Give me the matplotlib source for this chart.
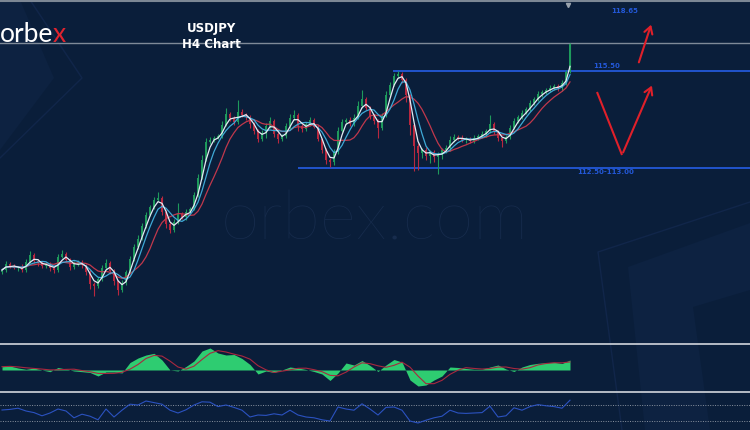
import matplotlib.pyplot as plt
from matplotlib.patches import Polygon
from matplotlib.lines import Line2D
import numpy as np
import pandas as pd

# USDJPY H4 closes from left to right
closes = [109.53, 109.71, 109.65, 109.59, 109.62, 109.53, 109.77, 109.98, 109.80, 109.74,
          109.65, 109.71, 109.59, 109.53, 109.92, 110.01, 109.83, 109.62, 109.71, 109.77,
          109.68, 109.47, 109.11, 109.05, 109.26, 109.59, 109.74, 109.50, 109.20, 108.93,
          109.14, 109.47, 109.86, 110.22, 110.46, 110.85, 111.18, 111.42, 111.63, 111.69,
          111.27, 110.91, 110.73, 110.97, 111.21, 111.12, 111.27, 111.36, 111.78, 112.29,
          112.83, 113.37, 113.43, 113.49, 113.55, 113.88, 114.21, 114.09, 113.97, 114.27,
          114.18, 114.12, 113.91, 113.70, 113.46, 113.64, 113.85, 114.00, 113.61, 113.46,
          113.55, 113.85, 114.09, 114.18, 113.85, 113.76, 113.91, 114.03, 113.82, 113.46,
          113.13, 112.83, 112.77, 113.07, 113.70, 113.97, 114.03, 113.91, 114.09, 114.45,
          114.66, 114.39, 114.15, 114.00, 113.79, 114.15, 114.78, 115.08, 115.35, 115.41,
          115.23, 114.78, 113.88, 113.25, 113.04, 113.13, 112.95, 113.07, 112.92, 112.98,
          113.13, 113.19, 113.43, 113.52, 113.49, 113.43, 113.46, 113.40, 113.49, 113.55,
          113.61, 113.70, 113.91, 113.67, 113.49, 113.40, 113.52, 113.79, 114.00, 114.12,
          114.24, 114.36, 114.54, 114.66, 114.81, 114.87, 114.93, 114.99, 115.05, 114.99,
          115.14, 115.47, 116.31]
first_open = 109.47

# wick lengths above / below the body
wick_up = [.06, .08, .05, .07, .04, .09, .08, .12, .05, .06,
           .05, .07, .06, .04, .10, .12, .05, .06, .08, .05,
           .06, .04, .07, .05, .06, .09, .12, .05, .06, .04,
           .08, .07, .10, .09, .12, .08, .10, .07, .09, .18,
           .06, .05, .07, .10, .33, .06, .08, .05, .10, .12,
           .14, .12, .08, .06, .07, .12, .18, .06, .05, .36,
           .08, .06, .05, .07, .05, .08, .10, .12, .06, .07,
           .05, .10, .12, .15, .06, .05, .07, .09, .06, .05,
           .04, .06, .05, .10, .12, .08, .06, .09, .12, .15,
           .27, .06, .05, .07, .05, .10, .12, .09, .08, .09,
           .06, .05, .04, .06, .08, .07, .10, .05, .06, .08,
           .07, .09, .12, .08, .06, .10, .07, .05, .08, .06,
           .09, .07, .27, .06, .05, .04, .06, .10, .08, .07,
           .09, .06, .08, .07, .10, .06, .05, .08, .07, .06,
           .08, .05, .03]
wick_dn = [.05, .07, .06, .04, .08, .05, .07, .04, .06, .08,
           .06, .05, .08, .10, .05, .04, .06, .09, .07, .05,
           .08, .10, .14, .30, .07, .06, .05, .08, .12, .15,
           .06, .05, .04, .06, .05, .04, .05, .03, .06, .04,
           .10, .12, .09, .06, .05, .07, .08, .06, .04, .05,
           .04, .03, .05, .06, .04, .05, .04, .08, .10, .06,
           .07, .09, .12, .10, .08, .06, .15, .05, .10, .12,
           .06, .05, .08, .05, .15, .09, .06, .05, .04, .07,
           .10, .12, .15, .08, .05, .04, .06, .07, .05, .04,
           .05, .06, .08, .10, .30, .05, .04, .05, .04, .06,
           .10, .20, .30, .75, .50, .15, .12, .20, .15, .50,
           .12, .08, .10, .06, .05, .07, .09, .06, .05, .07,
           .06, .08, .05, .06, .09, .18, .07, .05, .04, .06,
           .05, .04, .06, .05, .07, .08, .05, .06, .07, .10,
           .08, .05, .04]

# MACD and RSI, one reading every second candle
macd = [0.066, 0.08, 0.04, 0.014, 0.04, 0.0, -0.034, 0.05, 0.02, -0.02,
        -0.034, -0.05, -0.12, -0.04, -0.04, -0.06, 0.15, 0.24, 0.30, 0.334,
        0.20, 0.0, -0.02, 0.07, 0.18, 0.38, 0.44, 0.34, 0.30, 0.31,
        0.23, 0.11, -0.08, -0.02, -0.05, 0.0, 0.06, 0.04, 0.01, -0.03,
        -0.08, -0.21, -0.06, 0.14, 0.10, 0.19, 0.09, -0.03, 0.10, 0.21,
        0.16, -0.20, -0.32, -0.30, -0.20, -0.12, 0.06, 0.05, 0.03, 0.014,
        0.014, 0.06, 0.10, 0.02, -0.03, 0.06, 0.11, 0.134, 0.146, 0.154,
        0.13, 0.20]
rsi = [57.5, 59, 62, 55, 51, 43, 50, 60, 55, 38,
       47, 42, 33, 60, 40, 57, 72, 70, 80, 76,
       72, 57, 50, 58, 70, 78, 77, 66, 70, 64,
       57, 40, 45, 44, 48, 45, 57, 45, 40, 38,
       33, 30, 65, 60, 57, 73, 60, 45, 64, 65,
       57, 30, 25, 32, 38, 42, 57, 50, 49, 50,
       51, 67, 40, 43, 63, 57, 66, 71, 68, 66,
       62, 82]

last_price = 116.34
resistance = 115.50
support = 112.59

bg = '#0a1e3a'
green = '#1e9a5c'
red = '#b8283f'
level_blue = '#2358d8'
arrow_red = '#e0202a'

W, H = 750, 430
def fx(px):
    return px / W
def fy(py):
    return 1 - py / H

fig = plt.figure(figsize=(7.5, 4.3), dpi=100)
fig.patch.set_facecolor(bg)

ax = fig.add_axes([0, 0, 1, 1])
ax.set_facecolor(bg)
ax.set_xlim(-0.5, 187)
ax.set_ylim(104.73, 117.63)
ax.axis('off')

# faint background shapes
shade = '#0d2241'
edge = '#11264a'
ax.add_patch(Polygon([(fx(0), fy(0)), (fx(20), fy(0)), (fx(54), fy(78)), (fx(0), fy(150))],
                     closed=True, transform=ax.transAxes, color=shade, lw=0, zorder=0))
ax.plot([fx(30), fx(82), fx(0)], [fy(0), fy(78), fy(158)], transform=ax.transAxes,
        color=edge, lw=1, zorder=0)
ax.add_patch(Polygon([(fx(628), fy(267)), (fx(750), fy(223)), (fx(750), fy(290)),
                      (fx(693), fy(307)), (fx(710), fy(430)), (fx(645), fy(430))],
                     closed=True, transform=ax.transAxes, color=shade, lw=0, zorder=0))
ax.plot([fx(750), fx(598), fx(622)], [fy(202), fy(252), fy(430)], transform=ax.transAxes,
        color=edge, lw=1, zorder=0)

# watermark
ax.text(0.5, fy(240), 'orbex.com', transform=ax.transAxes, ha='center', va='baseline',
        fontsize=50, color='#172c4d', family='Lato', fontweight='light', zorder=0.5)

# top border and last price line
ax.axhline(117.59, color='#7c8794', lw=1.5, zorder=1)
ax.axhline(last_price, color='#7f8a98', lw=1.0, zorder=1)
ax.plot([141.5], [117.48], marker='v', color='#9aa3ad', ms=3, zorder=1)

# levels
ax.hlines(resistance, 97.75, 187, color=level_blue, lw=1.3, zorder=1)
ax.hlines(support, 74, 187, color=level_blue, lw=1.3, zorder=1)

# candles
closes = np.array(closes)
opens = np.r_[first_open, closes[:-1]]
highs = np.maximum(opens, closes) + np.array(wick_up)
lows = np.minimum(opens, closes) - np.array(wick_dn)
x = np.arange(len(closes))
cols = np.where(closes >= opens, green, red)
ax.vlines(x, lows, highs, colors=cols, lw=0.8, zorder=2)
ax.bar(x, np.abs(closes - opens), bottom=np.minimum(opens, closes), width=0.5,
       color=cols, zorder=2)

# moving averages
s = pd.Series(closes)
ax.plot(x, s.rolling(9, min_periods=1).mean(), color='#c0384c', lw=0.9, zorder=3)
ax.plot(x, s.rolling(5, min_periods=1).mean(), color='#3fa9d6', lw=0.9, zorder=3)
ax.plot(x, s.rolling(3, min_periods=1).mean(), color='#e4ebf3', lw=0.9, zorder=3)

# labels
ax.text(52.25, 116.76, 'USDJPY', ha='center', va='center', color='white',
        fontsize=8.5, fontweight='bold', zorder=5)
ax.text(52.25, 116.28, 'H4 Chart', ha='center', va='center', color='white',
        fontsize=8.5, fontweight='bold', zorder=5)
ax.text(155.75, 117.30, '118.65', ha='center', va='center', color=level_blue,
        fontsize=5, fontweight='bold')
ax.text(151.25, 115.65, '115.50', ha='center', va='center', color=level_blue,
        fontsize=5, fontweight='bold')
ax.text(151.0, 112.47, '112.50-113.00', ha='center', va='center', color=level_blue,
        fontsize=5, fontweight='bold')

# scenario arrows
akw = dict(arrowstyle='->,head_length=0.5,head_width=0.3', color=arrow_red, lw=1.5)
ax.annotate('', xy=(162.5, 116.97), xytext=(159, 115.68), arrowprops=akw)
ax.plot([148.75, 155], [114.87, 112.98], color=arrow_red, lw=1.5, solid_capstyle='butt')
ax.annotate('', xy=(162.75, 115.14), xytext=(155, 112.98), arrowprops=akw)

# logo
ax.text(fx(53), fy(42), 'orbe', transform=ax.transAxes, ha='right', va='baseline',
        fontsize=19, color='white', family='Lato', zorder=5)
ax.text(fx(53), fy(42), 'x', transform=ax.transAxes, ha='left', va='baseline',
        fontsize=19, color='#e0242f', family='Lato', zorder=5)

# MACD panel
xi = np.arange(0, len(closes), 2)
axm = fig.add_axes([0, 38 / H, 1, 48 / H])
axm.set_xlim(-0.5, 187)
axm.set_ylim(-0.44, 0.52)
axm.axis('off')
axm.patch.set_alpha(0)
axm.fill_between(xi, macd, 0, color='#2ecc71', lw=0)
signal = pd.Series(macd).rolling(3, min_periods=1).mean()
axm.plot(xi, signal, color='#a8283f', lw=0.8)

# RSI panel
axr = fig.add_axes([0, 0, 1, 37 / H])
axr.set_xlim(-0.5, 187)
axr.set_ylim(7.5, 100)
axr.axis('off')
axr.patch.set_alpha(0)
axr.axhline(70, color='#8a93a0', lw=0.7, ls=(0, (1, 1.5)))
axr.axhline(30, color='#8a93a0', lw=0.7, ls=(0, (1, 1.5)))
axr.plot(xi, rsi, color='#2b52c0', lw=0.8)

# panel separators
for py in (344, 392):
    fig.add_artist(Line2D([0, 1], [fy(py), fy(py)], color='#c3c8d0', lw=1.3))

fig.savefig('out.png', dpi=100, facecolor=bg)
